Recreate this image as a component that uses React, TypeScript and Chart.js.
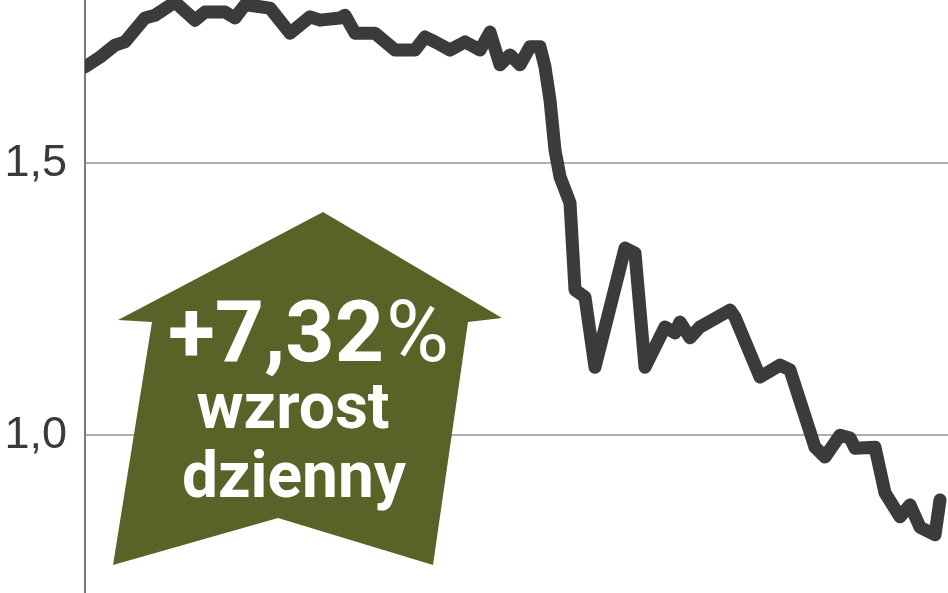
import React, { useEffect, useRef } from "react";
import { Chart, registerables } from "chart.js";

Chart.register(...registerables);

// trading-day index along the x axis
const days = [
  0, 3, 6, 8, 12, 14, 18, 22, 24, 28, 30, 32, 34, 37, 41, 45, 47, 51, 52, 54,
  58, 62, 66, 68, 70, 73, 76, 79, 81, 83, 85, 87, 89, 91, 92, 93, 94, 95, 97,
  98, 100, 102, 108, 110, 112, 116, 118, 119, 121, 123, 129, 130, 135, 139,
  141, 146, 148, 151, 153, 154, 158, 160, 163, 165, 167, 170, 171,
];

// price (zł)
const prices = [
  1.677, 1.695, 1.717, 1.723, 1.767, 1.772, 1.796, 1.763, 1.778, 1.778, 1.767,
  1.791, 1.789, 1.785, 1.739, 1.769, 1.763, 1.767, 1.772, 1.739, 1.739, 1.708,
  1.708, 1.732, 1.723, 1.708, 1.723, 1.708, 1.741, 1.681, 1.699, 1.681, 1.714,
  1.714, 1.677, 1.616, 1.524, 1.475, 1.427, 1.267, 1.254, 1.125, 1.344, 1.335,
  1.125, 1.199, 1.188, 1.208, 1.179, 1.199, 1.23, 1.217, 1.107, 1.129, 1.12,
  0.978, 0.96, 1.0, 0.995, 0.976, 0.978, 0.894, 0.85, 0.872, 0.831, 0.817,
  0.881,
];

const yTicks = [1.0, 1.5];

const changeValue = "+7,32";
const changeUnit = "%";
const badgeWords = ["wzrost", "dzienny"];

const family = "Roboto, 'Liberation Sans', sans-serif";

function fitText(
  ctx: CanvasRenderingContext2D,
  text: string,
  cx: number,
  baseline: number,
  width: number,
  font: string
) {
  ctx.save();
  ctx.font = font;
  const w = ctx.measureText(text).width;
  ctx.translate(cx, baseline);
  ctx.scale(width / w, 1);
  ctx.textAlign = "center";
  ctx.textBaseline = "alphabetic";
  ctx.fillText(text, 0, 0);
  ctx.restore();
}

export default function App() {
  const canvasRef = useRef<HTMLCanvasElement>(null);

  useEffect(() => {
    if (!canvasRef.current) return;

    const chart = new Chart(canvasRef.current, {
      type: "line",
      data: {
        datasets: [
          {
            data: days.map((d, i) => ({ x: d, y: prices[i] })),
            borderColor: "#3b3b3b",
            borderWidth: 13,
            borderJoinStyle: "round",
            borderCapStyle: "round",
            pointRadius: 0,
            tension: 0,
            fill: false,
          },
        ],
      },
      options: {
        animation: false,
        responsive: true,
        maintainAspectRatio: false,
        layout: { padding: 0 },
        plugins: {
          legend: { display: false },
          tooltip: { enabled: false },
        },
        scales: {
          x: {
            type: "linear",
            display: false,
            min: 0,
            max: 172.6,
          },
          y: {
            min: 0.71,
            max: 1.8,
            afterFit: (scale: any) => {
              scale.width = 85;
              scale.paddingTop = 0;
              scale.paddingBottom = 0;
            },
            afterBuildTicks: (scale) => {
              scale.ticks = yTicks.map((value) => ({ value }));
            },
            ticks: {
              padding: 18,
              color: "#3a3a3a",
              font: { size: 45, family: "Liberation Sans, Arial, sans-serif", weight: "normal" },
              callback: (v) => Number(v).toFixed(1).replace(".", ","),
            },
            grid: {
              color: "#b0b0b0",
              lineWidth: 2,
              drawTicks: false,
            },
            border: { color: "#7a7a7a", width: 2 },
          },
        },
      },
      plugins: [
        {
          id: "growthBadge",
          afterDraw: (c) => {
            const ctx = c.ctx;
            ctx.save();
            // arrow
            ctx.fillStyle = "#5a6327";
            ctx.beginPath();
            ctx.moveTo(323, 212);
            ctx.lineTo(502, 318);
            ctx.lineTo(468, 322);
            ctx.lineTo(433, 565);
            ctx.lineTo(278, 518);
            ctx.lineTo(113, 565);
            ctx.lineTo(152, 322);
            ctx.lineTo(118, 320);
            ctx.closePath();
            ctx.fill();

            ctx.fillStyle = "#ffffff";
            // "+7,32" bold, "%" lighter, squeezed to the reference width
            const boldFont = `bold 86px ${family}`;
            const lightFont = `normal 86px ${family}`;
            ctx.font = boldFont;
            const w1 = ctx.measureText(changeValue).width;
            ctx.font = lightFont;
            const w2 = ctx.measureText(changeUnit).width;
            const sx = 279 / (w1 + w2);
            ctx.save();
            ctx.translate(168, 361);
            ctx.scale(sx, 1);
            ctx.textAlign = "left";
            ctx.font = boldFont;
            ctx.fillText(changeValue, 0, 0);
            ctx.font = lightFont;
            ctx.fillText(changeUnit, w1 + 2, 0);
            ctx.restore();

            fitText(ctx, badgeWords[0], 293, 428, 193, `bold 64px ${family}`);
            fitText(ctx, badgeWords[1], 294, 497, 224, `bold 64px ${family}`);
            ctx.restore();
          },
        },
      ],
    });

    return () => {
      chart.destroy();
    };
  }, []);

  return (
    <div style={{ position: "absolute", left: 0, top: 0, width: 948, height: 593, background: "#ffffff" }}>
      <canvas ref={canvasRef} />
    </div>
  );
}
